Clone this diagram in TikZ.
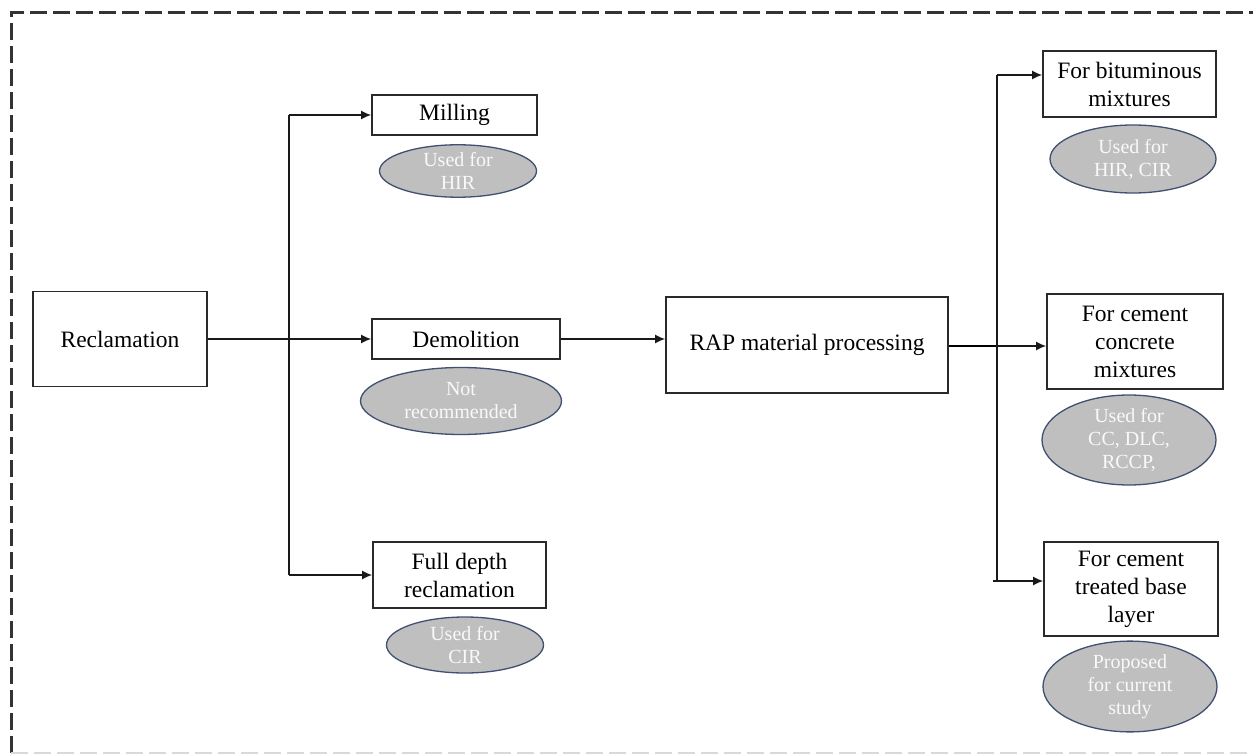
\documentclass[tikz,border=0pt]{standalone}
\usepackage{fontspec}
\setmainfont{Liberation Serif}
\usetikzlibrary{shapes.geometric,arrows.meta}
\definecolor{ellfill}{HTML}{BFBFBF}
\definecolor{elldraw}{HTML}{3F5070}
\definecolor{boxdraw}{HTML}{2A2A2A}
\tikzset{
  box/.style={draw=boxdraw, line width=1.6pt, fill=white, align=center, inner sep=0pt,
    font=\fontsize{23.5}{28}\selectfont},
  oval/.style={ellipse, draw=elldraw, line width=1.3pt, fill=ellfill, inner sep=0pt,
    align=center, text=white!95!gray, font=\fontsize{20}{23}\selectfont},
  conn/.style={line width=1.6pt, draw=black!90},
  arr/.style={conn, -{Latex[length=10pt,width=9pt]}},
  border/.style={line width=3pt, draw=black!80, dash pattern=on 17pt off 6pt},
}
\begin{document}
\begin{tikzpicture}[x=1pt,y=-1pt]
\useasboundingbox (0,0) rectangle (1253,754);
% border
\draw[border] (11,753) -- (11,13) -- (1260,13);
\draw[line width=2pt, draw=black!15, dash pattern=on 17pt off 6pt] (11,753) -- (1253,753);

% left nodes
\node[box, minimum width=174pt, minimum height=95pt] (rec) at (120,339) {Reclamation};
\node[box, minimum width=165pt, minimum height=40pt] (mil) at (454.5,115) {Milling};
\node[oval, minimum width=157pt, minimum height=48pt] (o1) at (458,171) {Used for\\HIR};
\node[box, minimum width=188pt, minimum height=40pt] (dem) at (466,339) {Demolition};
\node[oval, minimum width=201pt, minimum height=67pt] (o2) at (461,401) {Not\\recommended};
\node[box, minimum width=173pt, minimum height=66pt] (fdr) at (459.5,575) {Full depth\\reclamation};
\node[oval, minimum width=157pt, minimum height=56pt] (o3) at (465,645) {Used for\\CIR};

% middle
\node[box, minimum width=282pt, minimum height=96pt] (rap) at (807,345) {RAP material processing};

% right nodes
\node[box, minimum width=173pt, minimum height=66pt] (bit) at (1129.5,84) {For bituminous\\mixtures};
\node[oval, minimum width=166pt, minimum height=68pt] (o4) at (1133,159) {Used for\\HIR, CIR};
\node[box, minimum width=176pt, minimum height=95pt] (ccm) at (1135,341.5) {For cement\\concrete\\mixtures};
\node[oval, minimum width=174pt, minimum height=90pt] (o5) at (1129,440) {Used for\\CC, DLC,\\RCCP,};
\node[box, minimum width=174pt, minimum height=94pt] (ctb) at (1131,589) {For cement\\treated base\\layer};
\node[oval, minimum width=174pt, minimum height=83pt] (o6) at (1130,686.5) {Proposed\\for current\\study};

% left connectors
\coordinate (lj) at (289,339);
\coordinate (lt) at (289,115);
\coordinate (lb) at (289,575);
\draw[conn] (rec.east) -- (lj);
\draw[conn] (lt) -- (lb);
\draw[arr] (lt) -- (mil.west);
\draw[arr] (lj) -- (dem.west);
\draw[arr] (lb) -- (fdr.west);

% middle
\draw[arr] (dem.east) -- (rap.west |- dem.east);

% right connectors
\coordinate (rt) at (997,75);
\coordinate (rm) at (997,346);
\coordinate (rb) at (997,581);
\coordinate (rbl) at (993,581);
\draw[line width=2.8pt, draw=black] (rap.east |- rm) -- (rm);
\draw[conn] (rt) -- (rb);
\draw[arr] (rt) -- (bit.west |- rt);
\draw[arr] (rm) -- (ccm.west |- rm);
\draw[arr] (rbl) -- (ctb.west |- rbl);
\end{tikzpicture}
\end{document}
